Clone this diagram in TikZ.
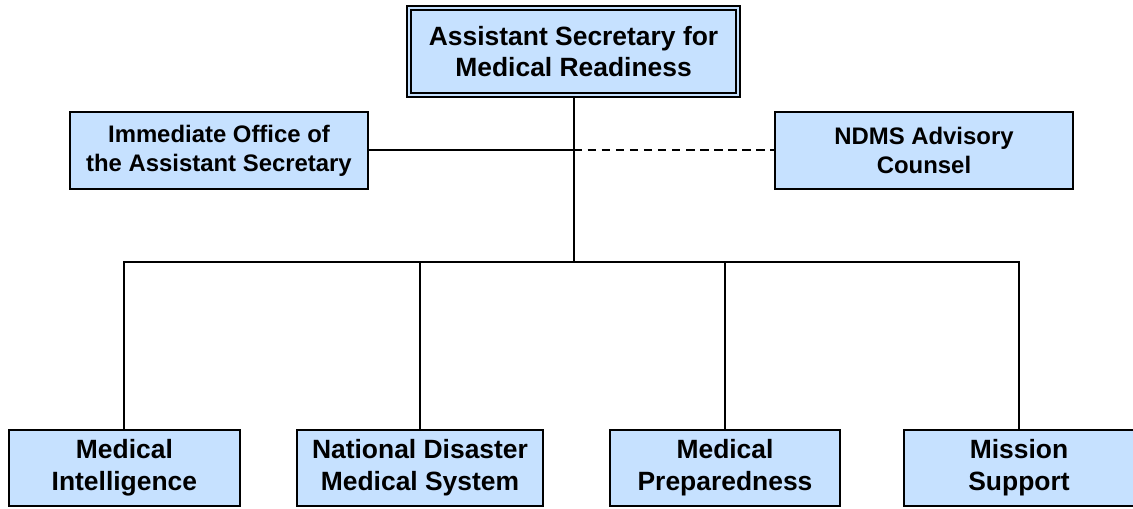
\documentclass[tikz,border=0pt]{standalone}
\usepackage{fontspec}
\setmainfont{Liberation Sans}
\definecolor{boxblue}{RGB}{198,225,255}
\tikzset{
    orgbox/.style={draw=black, line width=1.4pt, fill=boxblue,
        align=center, inner sep=0pt, font=\bfseries},
    topbox/.style={orgbox, double=boxblue, line width=1.5pt, double distance=1.6pt,
        font=\fontsize{18.8}{21.5}\selectfont\bfseries},
    staffbox/.style={orgbox, minimum width=7.45cm, minimum height=1.93cm,
        font=\fontsize{17}{20.6}\selectfont\bfseries},
    unitbox/.style={orgbox, minimum height=1.9cm,
        font=\fontsize{18.8}{22.6}\selectfont\bfseries},
    link/.style={line width=1.4pt}
}
\begin{document}
\begin{tikzpicture}

    \useasboundingbox (0,0) rectangle (28.325,-12.7);
    \clip (0,0) rectangle (28.325,-12.7);

    \node[topbox,
        minimum width=8.22cm,
        minimum height=2.18cm
    ] (asmr) at (14.34,-1.29){Assistant Secretary for\\Medical Readiness};

    \node[staffbox] (office) at (5.475,-3.76){Immediate Office of\\the Assistant Secretary};
    \node[staffbox] (ndms) at (23.1,-3.76){NDMS Advisory\\Counsel};

    \node[unitbox, minimum width=5.78cm] (intel) at (3.11,-11.7){Medical\\Intelligence};
    \node[unitbox, minimum width=6.15cm] (ndsys) at (10.5,-11.7){National Disaster\\Medical System};
    \node[unitbox, minimum width=5.75cm] (prep) at (18.125,-11.7){Medical\\Preparedness};
    \node[unitbox, minimum width=5.75cm] (mission) at (25.475,-11.7){Mission\\Support};

    \coordinate (stem) at (asmr.south |- office.east);
    \coordinate (bus) at (14.34,-6.55);

    \draw[link] (asmr.south) -- (bus);
    \draw[link] (office.east) -- (stem);
    \draw[link, dashed, dash pattern=on 6pt off 4pt] (stem) -- (ndms.west);

    \draw[link] (intel.north) |- (bus) -| (mission.north);
    \draw[link] (ndsys.north) -- (ndsys.north |- bus);
    \draw[link] (prep.north) -- (prep.north |- bus);

\end{tikzpicture}
\end{document}
